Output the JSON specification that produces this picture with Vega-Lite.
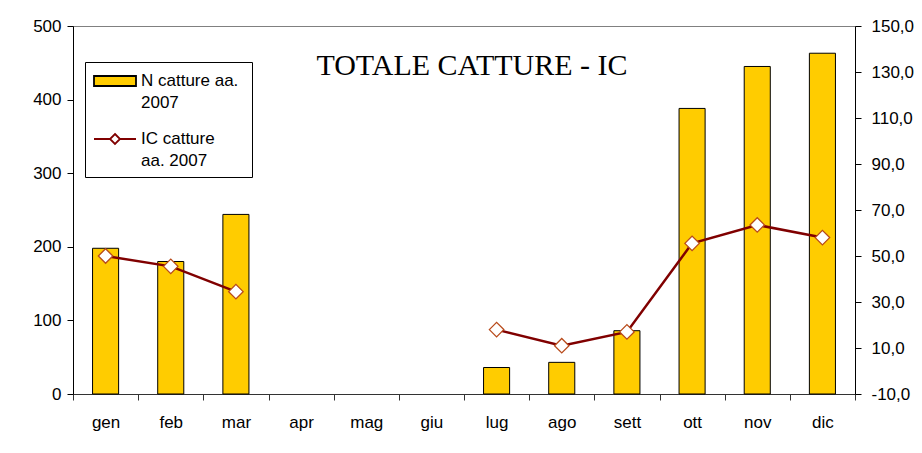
{
  "$schema": "https://vega.github.io/schema/vega-lite/v6.json",
  "width": 782,
  "height": 368,
  "autosize": {"type": "none"},
  "padding": {"left": 73, "top": 26, "right": 67, "bottom": 59},
  "background": "white",
  "config": {
    "view": {"stroke": "#808080", "strokeWidth": 1},
    "font": "Liberation Sans",
    "style": {"guide-label": {"lineHeight": 22}},
    "axis": {"grid": false, "labelColor": "black", "labelFont": "Liberation Sans", "labelFontSize": 17, "domainColor": "#333", "tickColor": "#333", "tickSize": 6}
  },
  "title": {
    "text": "TOTALE CATTURE - IC",
    "font": "Liberation Serif",
    "fontSize": 30,
    "fontWeight": "normal",
    "color": "black",
    "anchor": "middle",
    "frame": "group",
    "baseline": "alphabetic",
    "offset": -52,
    "dx": 8,
    "dy": 36
  },
  "data": {
    "values": [
      {"mese": "gen", "n": 198, "ic": 50},
      {"mese": "feb", "n": 180, "ic": 45.5},
      {"mese": "mar", "n": 244, "ic": 34.5},
      {"mese": "apr", "n": null, "ic": null},
      {"mese": "mag", "n": null, "ic": null},
      {"mese": "giu", "n": null, "ic": null},
      {"mese": "lug", "n": 36, "ic": 18},
      {"mese": "ago", "n": 43, "ic": 11},
      {"mese": "sett", "n": 86, "ic": 17},
      {"mese": "ott", "n": 388, "ic": 55.5},
      {"mese": "nov", "n": 445, "ic": 63.5},
      {"mese": "dic", "n": 463, "ic": 58}
    ]
  },
  "encoding": {
    "x": {
      "field": "mese",
      "type": "nominal",
      "sort": null,
      "scale": {"domain": ["gen", "feb", "mar", "apr", "mag", "giu", "lug", "ago", "sett", "ott", "nov", "dic"], "paddingInner": 0, "paddingOuter": 0},
      "axis": {"title": null, "labelAngle": 0, "tickBand": "extent", "labelPadding": 14}
    }
  },
  "layer": [
    {
      "mark": {"type": "bar", "fill": "#FFCC00", "stroke": "black", "strokeWidth": 1, "width": {"band": 0.4}},
      "encoding": {
        "y": {
          "field": "n",
          "type": "quantitative",
          "scale": {"domain": [0, 500], "nice": false},
          "axis": {"title": null, "values": [0, 100, 200, 300, 400, 500], "labelPadding": 6, "domainColor": "black", "tickColor": "black"}
        }
      }
    },
    {
      "encoding": {
        "y": {
          "field": "ic",
          "type": "quantitative",
          "scale": {"domain": [-10, 150], "nice": false, "zero": false},
          "axis": {
            "title": null,
            "orient": "right",
            "values": [-10, 10, 30, 50, 70, 90, 110, 130, 150],
            "labelExpr": "replace(replace(format(datum.value, '.1f'), '.', ','), '\u2212', '-')",
            "labelPadding": 10,
            "domainColor": "black",
            "tickColor": "black"
          }
        }
      },
      "layer": [
        {
          "mark": {"type": "line", "strokeWidth": 2.5, "color": "#800000"},
          "encoding": {}
        },
        {
          "mark": {"type": "point", "shape": "diamond", "filled": true, "fill": "white", "stroke": "#B84A1A", "strokeWidth": 1.3, "size": 210, "opacity": 1},
          "encoding": {}
        }
      ]
    },
    {
      "transform": [{"fold": ["n", "ic"], "as": ["serie", "val"]}],
      "mark": {"type": "point", "opacity": 0, "size": 400, "filled": true},
      "encoding": {
        "shape": {
          "field": "serie",
          "type": "nominal",
          "scale": {"domain": ["n", "ic"], "range": ["M-1,-0.5H3.2V0.5H-1Z", "M-1,0H0.6M1.6,0H3.2M1.1,-0.5L1.6,0L1.1,0.5L0.6,0Z"]},
          "legend": {
            "orient": "none",
            "legendX": 12,
            "legendY": 36,
            "direction": "vertical",
            "title": null,
            "strokeColor": "black",
            "fillColor": "white",
            "padding": 8,
            "labelFont": "Liberation Sans",
            "labelFontSize": 17,
            "labelColor": "black",
            "labelLimit": 220,
            "labelOffset": 26,
            "rowPadding": 17,
            "symbolSize": 400,
            "symbolOpacity": 1,
            "symbolStrokeWidth": 1.8,
            "labelExpr": "datum.value == 'n' ? ['N catture  aa.', '2007'] : [' IC catture', 'aa. 2007']"
          }
        },
        "fill": {
          "field": "serie",
          "type": "nominal",
          "scale": {"domain": ["n", "ic"], "range": ["#FFCC00", "white"]}
        },
        "stroke": {
          "field": "serie",
          "type": "nominal",
          "scale": {"domain": ["n", "ic"], "range": ["black", "#800000"]}
        }
      }
    }
  ],
  "resolve": {"scale": {"y": "independent"}}
}
